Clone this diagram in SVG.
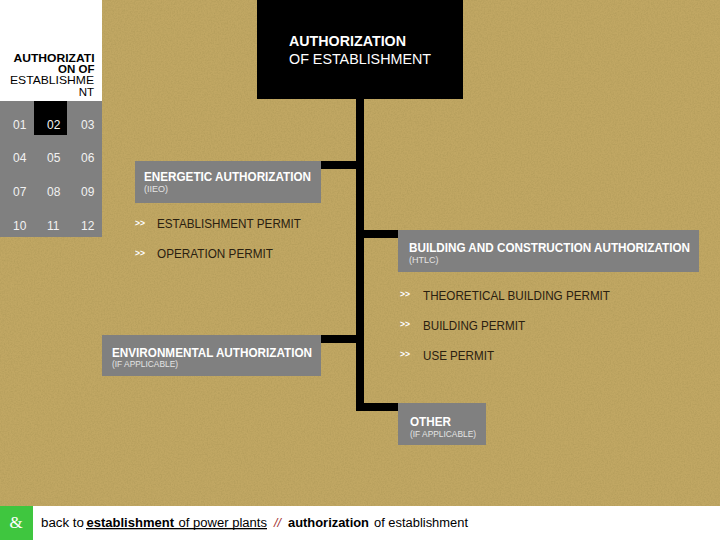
<svg xmlns="http://www.w3.org/2000/svg" width="720" height="540" viewBox="0 0 720 540">
<style>
text{font-family:"Liberation Sans",Arial,sans-serif}
.box{fill:#808080}
.h{font-size:13.5px;font-weight:bold;fill:#fff}
.s{font-size:9px;fill:#e4e4e4}
.p{font-size:13px;fill:#2a2010}
.m{font-size:8.500px;font-weight:bold;fill:#fff}
.n{font-size:12px;fill:#f2f2f2}
.t{font-size:11.500px;fill:#000;text-anchor:end}
.f{font-size:12.5px;fill:#000}
.w{stroke:#000;stroke-width:8;fill:none}
</style>
<defs><filter id="grain" x="0" y="0" width="100%" height="100%"><feTurbulence type="fractalNoise" baseFrequency="0.7" numOctaves="2" seed="4"/><feColorMatrix values="0 0 0 0 0.25  0 0 0 0 0.2  0 0 0 0 0.05  0.4 0 0 0 -0.14"/></filter></defs>
<rect id="background" width="720" height="540" fill="#c1a763"/>
<rect width="720" height="540" filter="url(#grain)"/>
<g id="connectors" class="w">
<path d="M360 99V411"/><path d="M321 165H360"/><path d="M360 234H398"/><path d="M321 339H360"/><path d="M356 407H398"/>
</g>
<g id="sidebar">
<rect width="102" height="101" fill="#fff"/>
<rect y="101" width="102" height="136" class="box"/>
<rect x="34" y="101" width="33" height="34" fill="#000"/>
<text x="94.500" y="62" class="t" font-weight="bold" textLength="81" lengthAdjust="spacingAndGlyphs">AUTHORIZATI</text>
<text x="94.500" y="72.500" class="t" font-weight="bold">ON OF</text>
<text x="94" y="84" class="t" textLength="84" lengthAdjust="spacingAndGlyphs">ESTABLISHME</text>
<text x="94" y="96" class="t">NT</text>
<g class="n">
<text x="13" y="129">01</text><text x="47" y="129">02</text><text x="81" y="129">03</text>
<text x="13" y="162">04</text><text x="47" y="162">05</text><text x="81" y="162">06</text>
<text x="13" y="196">07</text><text x="47" y="196">08</text><text x="81" y="196">09</text>
<text x="13" y="230">10</text><text x="47" y="230">11</text><text x="81" y="230">12</text>
</g>
</g>
<g id="root">
<rect x="257" width="206" height="99" fill="#000"/>
<text x="289" y="46" font-size="15.500" font-weight="bold" fill="#fff" textLength="117" lengthAdjust="spacingAndGlyphs">AUTHORIZATION</text>
<text x="289" y="63.500" font-size="15.500" fill="#fff" textLength="142" lengthAdjust="spacingAndGlyphs">OF ESTABLISHMENT</text>
</g>
<g id="energetic">
<rect x="135" y="161" width="186" height="42" class="box"/>
<text x="144" y="181" class="h" textLength="167" lengthAdjust="spacingAndGlyphs">ENERGETIC AUTHORIZATION</text>
<text x="144" y="192" class="s">(IIEO)</text>
</g>
<g id="energetic-items">
<text x="135" y="226" class="m">&gt;&gt;</text><text x="157" y="228" class="p" textLength="144" lengthAdjust="spacingAndGlyphs">ESTABLISHMENT PERMIT</text>
<text x="135" y="256" class="m">&gt;&gt;</text><text x="157" y="258" class="p" textLength="116" lengthAdjust="spacingAndGlyphs">OPERATION PERMIT</text>
</g>
<g id="building">
<rect x="398" y="230" width="301" height="42" class="box"/>
<text x="409" y="252" class="h" textLength="281" lengthAdjust="spacingAndGlyphs">BUILDING AND CONSTRUCTION AUTHORIZATION</text>
<text x="409" y="263" class="s">(HTLC)</text>
</g>
<g id="building-items">
<text x="400" y="297" class="m">&gt;&gt;</text><text x="423" y="300" class="p" textLength="187" lengthAdjust="spacingAndGlyphs">THEORETICAL BUILDING PERMIT</text>
<text x="400" y="327" class="m">&gt;&gt;</text><text x="423" y="330" class="p" textLength="102" lengthAdjust="spacingAndGlyphs">BUILDING PERMIT</text>
<text x="400" y="357" class="m">&gt;&gt;</text><text x="423" y="360" class="p" textLength="71" lengthAdjust="spacingAndGlyphs">USE PERMIT</text>
</g>
<g id="environmental">
<rect x="102" y="335" width="219" height="41" class="box"/>
<text x="112" y="357" class="h" textLength="200" lengthAdjust="spacingAndGlyphs">ENVIRONMENTAL AUTHORIZATION</text>
<text x="112" y="367" class="s" textLength="66" lengthAdjust="spacingAndGlyphs">(IF APPLICABLE)</text>
</g>
<g id="other">
<rect x="398" y="403" width="88" height="42" class="box"/>
<text x="410" y="426" class="h" textLength="41" lengthAdjust="spacingAndGlyphs">OTHER</text>
<text x="410" y="437" class="s" textLength="66" lengthAdjust="spacingAndGlyphs">(IF APPLICABLE)</text>
</g>
<g id="footer">
<rect y="506" width="720" height="34" fill="#fff"/>
<rect y="506" width="33" height="34" fill="#3fc63f"/>
<text x="16" y="528" font-size="17" text-anchor="middle" fill="#fff" style="font-family:'Liberation Serif',serif">&amp;</text>
<text x="41" y="527" class="f" textLength="43" lengthAdjust="spacingAndGlyphs">back to</text>
<text x="86.500" y="527" class="f" font-weight="bold" textLength="87.500" lengthAdjust="spacingAndGlyphs">establishment</text>
<text x="178.500" y="527" class="f" textLength="88.500" lengthAdjust="spacingAndGlyphs">of power plants</text>
<rect x="86" y="528" width="181" height="1.300" fill="#000"/>
<text x="274" y="527" class="f" fill="#a03030" font-style="italic" style="fill:#a03030">//</text>
<text x="288" y="527" class="f" font-weight="bold" textLength="81" lengthAdjust="spacingAndGlyphs">authorization</text>
<text x="374" y="527" class="f" textLength="94" lengthAdjust="spacingAndGlyphs">of establishment</text>
</g>
</svg>
